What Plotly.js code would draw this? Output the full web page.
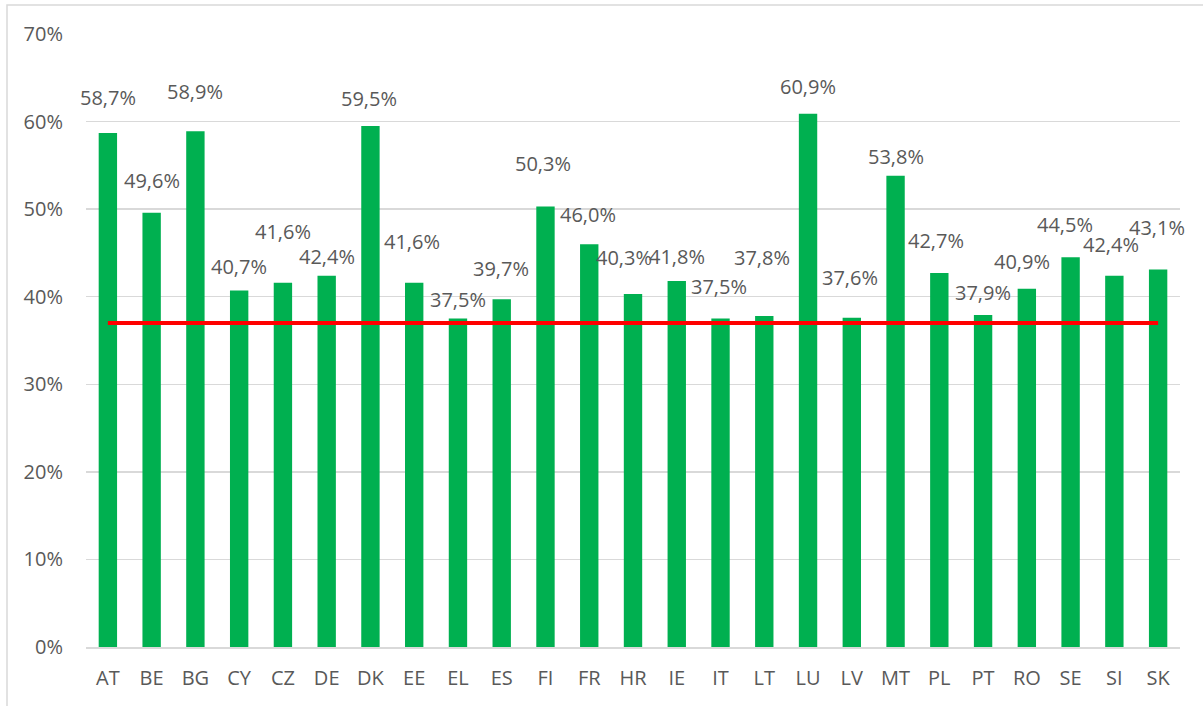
<!DOCTYPE html>
<html>
<head>
<meta charset="utf-8">
<script src="https://cdn.plot.ly/plotly-3.0.1.min.js"></script>
<style>html,body{margin:0;padding:0;background:#fff;}#chart{width:1203px;height:706px;}</style>
</head>
<body>
<div id="chart"></div>
<script>
const countries = ["AT","BE","BG","CY","CZ","DE","DK","EE","EL","ES","FI","FR","HR","IE","IT","LT","LU","LV","MT","PL","PT","RO","SE","SI","SK"];
const shares = [58.7,49.6,58.9,40.7,41.6,42.4,59.5,41.6,37.5,39.7,50.3,46.0,40.3,41.8,37.5,37.8,60.9,37.6,53.8,42.7,37.9,40.9,44.5,42.4,43.1];
const benchmark = 37.0;

// label placement offsets in pixels (style only)
const labelDy = [35,32,40,24,51,19,27,41,19,31,43,30,37,24,32,58,27,40,19,33,23,27,33,31,42];
const labelDx = [0,0,0,0,0,0,-1,-2,0,-1,-2,-1,-9,0,-2,-2,0,-2,0,-3,0,-5,-6,-3,-1];

const fontFam = '"Open Sans", "Noto Sans", sans-serif';
const txtColor = '#595959';

const annotations = countries.map((c,i)=>({
  x: c, y: shares[i]/100, xref:'x', yref:'y',
  text: shares[i].toFixed(1).replace('.', ',') + '%',
  showarrow:false, yanchor:'middle', xanchor:'center',
  yshift: labelDy[i], xshift: labelDx[i],
  font:{family:fontFam, size:20, color:txtColor}
}));

const traces = [
  {type:'bar', x:countries, y:shares.map(v=>v/100), marker:{color:'#00b050'}, width:0.42, hoverinfo:'skip'},
  {type:'scatter', mode:'lines', x:countries, y:countries.map(()=>benchmark/100), line:{color:'#ff0000', width:4}, hoverinfo:'skip'}
];

const layout = {
  width:1203, height:706,
  margin:{l:86, r:23, t:34, b:59},
  paper_bgcolor:'#ffffff', plot_bgcolor:'#ffffff',
  showlegend:false,
  xaxis:{type:'category', range:[-0.5, countries.length-0.5], showgrid:false, showline:true, linecolor:'#d9d9d9', linewidth:1.5, automargin:false,
         ticks:'', ticklabelstandoff:12, tickfont:{family:fontFam, size:20, color:txtColor}, fixedrange:true},
  yaxis:{range:[0,0.7], dtick:0.1, tick0:0, tickformat:'.0%', showgrid:true, gridcolor:'#d9d9d9', gridwidth:1.5,
         zeroline:false, showline:false, ticks:'', ticklabelstandoff:22, automargin:false,
         tickfont:{family:fontFam, size:20, color:txtColor}, fixedrange:true},
  annotations: annotations,
  shapes:[{type:'rect', xref:'paper', yref:'paper',
           x0:(7-86)/1094, x1:(1215-86)/1094, y0:(647-720)/613, y1:(647-5)/613,
           line:{color:'#d9d9d9', width:1.5}, fillcolor:'rgba(0,0,0,0)', layer:'below'}]
};

Plotly.newPlot('chart', traces, layout, {displayModeBar:false, staticPlot:true});
</script>
</body>
</html>
